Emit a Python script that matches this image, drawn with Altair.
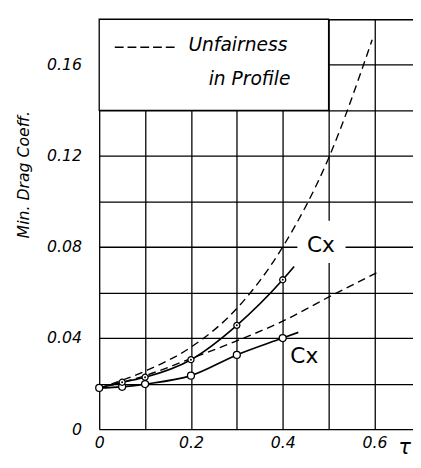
import altair as alt
import pandas as pd

# ---- axis ticks / labels ----
x_grid = [0, 0.1, 0.2, 0.3, 0.4, 0.5, 0.6]
x_tick_labels = ["0", "", "0.2", "", "0.4", "", "0.6"]
y_grid = [0, 0.02, 0.04, 0.06, 0.08, 0.10, 0.12, 0.14, 0.16, 0.18]
y_tick_labels = ["0", "", "0.04", "", "0.08", "", "0.12", "", "0.16", ""]

# ---- series ----
upper_solid_x = [0, 0.05, 0.1, 0.2, 0.3, 0.4, 0.425]
upper_solid_y = [0.018, 0.0206, 0.0228, 0.0305, 0.0456, 0.0656, 0.0714]
lower_solid_x = [0, 0.05, 0.1, 0.2, 0.3, 0.4, 0.434]
lower_solid_y = [0.0181, 0.0186, 0.0198, 0.0235, 0.0326, 0.0400, 0.0425]
upper_dash_x = [0, 0.1, 0.2, 0.3, 0.4, 0.5, 0.595]
upper_dash_y = [0.018, 0.0255, 0.036, 0.053, 0.080, 0.119, 0.171]
lower_dash_x = [0, 0.1, 0.2, 0.3, 0.4, 0.5, 0.605]
lower_dash_y = [0.018, 0.0235, 0.031, 0.0388, 0.0474, 0.058, 0.0687]

# measured points
open_pts_x = [0, 0.05, 0.1, 0.2, 0.3, 0.4]
open_pts_y = [0.0181, 0.0186, 0.0198, 0.0235, 0.0326, 0.0400]
dot_pts_x = [0.05, 0.1, 0.2, 0.3, 0.4]
dot_pts_y = [0.0206, 0.0228, 0.0305, 0.0456, 0.0656]

FONT = "DejaVu Sans"


def label_expr(vals, labels):
    expr = "''"
    for v, l in reversed(list(zip(vals, labels))):
        expr = f"abs(datum.value - {v}) < 1e-6 ? '{l}' : ({expr})"
    return expr


def xenc(field="x"):
    return alt.X(
        f"{field}:Q",
        scale=alt.Scale(domain=[0, 0.684], nice=False, zero=False),
        axis=alt.Axis(
            values=x_grid, labelExpr=label_expr(x_grid, x_tick_labels),
            grid=True, gridColor="black", gridOpacity=1, gridWidth=1.3,
            ticks=False, domain=False, labelPadding=6,
            labelFontSize=16, labelFontStyle="italic", labelFont=FONT,
            labelColor="black", labelFlush=False, labelOverlap=False,
            title="τ", titleFontSize=21, titleFont=FONT, titleFontWeight="normal",
            titleFontStyle="italic", titleX=311, titleY=19, titleBaseline="middle",
            titleAlign="center", titleColor="black",
        ),
    )


def yenc(field="y"):
    return alt.Y(
        f"{field}:Q",
        scale=alt.Scale(domain=[0, 0.18], nice=False, zero=False),
        axis=alt.Axis(
            values=y_grid, labelExpr=label_expr(y_grid, y_tick_labels),
            grid=True, gridColor="black", gridOpacity=1, gridWidth=1.3,
            ticks=False, domain=False, labelPadding=18,
            labelFontSize=16, labelFontStyle="italic", labelFont=FONT,
            labelColor="black", labelFlush=False, labelOverlap=False,
            title="Min. Drag Coeff.", titleFontSize=16, titleFont=FONT,
            titleFontWeight="normal", titleFontStyle="italic", titleX=-77,
            titleY=158, titleAngle=270, titleBaseline="middle", titleAlign="center",
            titleColor="black",
        ),
    )


def line_df(xs, ys, name):
    return pd.DataFrame({"x": xs, "y": ys, "series": name, "order": range(len(xs))})


solid_df = pd.concat([line_df(upper_solid_x, upper_solid_y, "upper"),
                      line_df(lower_solid_x, lower_solid_y, "lower")])
dash_df = pd.concat([line_df(upper_dash_x, upper_dash_y, "upper"),
                     line_df(lower_dash_x, lower_dash_y, "lower")])

# legend box & label backgrounds
box_df = pd.DataFrame({"x": [0], "x2": [0.5], "y": [0.14], "y2": [0.18]})
cxbg_df = pd.DataFrame({"x": [0.432], "x2": [0.537], "y": [0.0730], "y2": [0.0915]})

box = alt.Chart(box_df).mark_rect(fill="white", stroke="black", strokeWidth=1.3).encode(
    x=xenc(), x2="x2:Q", y=yenc(), y2="y2:Q")
cxbg = alt.Chart(cxbg_df).mark_rect(fill="white", strokeWidth=0).encode(
    x=xenc(), x2="x2:Q", y=yenc(), y2="y2:Q")

solid = alt.Chart(solid_df).mark_line(color="black", strokeWidth=1.7, interpolate="monotone").encode(
    x=xenc(), y=yenc(), detail="series:N", order="order:Q")
dashed = alt.Chart(dash_df).mark_line(color="black", strokeWidth=1.4, strokeDash=[8, 5],
                                      interpolate="monotone").encode(
    x=xenc(), y=yenc(), detail="series:N", order="order:Q")

open_df = pd.DataFrame({"x": open_pts_x, "y": open_pts_y})
dot_df = pd.DataFrame({"x": dot_pts_x, "y": dot_pts_y})

open_pts = alt.Chart(open_df).mark_point(shape="circle", size=50, filled=False, fill="white",
                                         fillOpacity=1, stroke="black", strokeWidth=1.3,
                                         opacity=1).encode(x=xenc(), y=yenc())
dot_rings = alt.Chart(dot_df).mark_point(shape="circle", size=38, filled=False, fill="white",
                                         fillOpacity=1, stroke="black", strokeWidth=1.3,
                                         opacity=1).encode(x=xenc(), y=yenc())
dot_centers = alt.Chart(dot_df).mark_point(shape="circle", size=4, filled=True, color="black",
                                           opacity=1).encode(x=xenc(), y=yenc())

# legend content
leg_dash_df = pd.DataFrame({"x": [0.034], "x2": [0.169], "y": [0.1677]})
leg_dash = alt.Chart(leg_dash_df).mark_rule(color="black", strokeWidth=1.4, strokeDash=[9, 4]).encode(
    x=xenc(), x2="x2:Q", y=yenc())

leg_text_df = pd.DataFrame({"x": [0.1945], "y": [0.1686], "t": ["Unfairness"]})
leg_text = alt.Chart(leg_text_df).mark_text(align="left", baseline="middle", font=FONT,
                                            fontSize=19, fontStyle="italic", color="black").encode(
    x=xenc(), y=yenc(), text="t:N")
leg_text2_df = pd.DataFrame({"x": [0.417], "y": [0.1537], "t": ["in Profile"]})
leg_text2 = alt.Chart(leg_text2_df).mark_text(align="right", baseline="middle", font=FONT,
                                              fontSize=19, fontStyle="italic", color="black").encode(
    x=xenc(), y=yenc(), text="t:N")

cx_df = pd.DataFrame({"x": [0.483, 0.447], "y": [0.0807, 0.0321], "t": ["Cx", "Cx"]})
cx_text = alt.Chart(cx_df).mark_text(align="center", baseline="middle", font=FONT,
                                     fontSize=22, color="black").encode(
    x=xenc(), y=yenc(), text="t:N")

chart = alt.layer(
    box, cxbg, dashed, solid, open_pts, dot_rings, dot_centers,
    leg_dash, leg_text, leg_text2, cx_text,
).properties(
    width=320, height=418,
    autosize=alt.AutoSizeParams(type="none"),
    padding={"left": 93, "top": 7, "right": 0, "bottom": 28},
).configure_view(stroke=None).configure(background="white")

chart.save("out.html", embed_options={"renderer": "svg", "actions": False})
